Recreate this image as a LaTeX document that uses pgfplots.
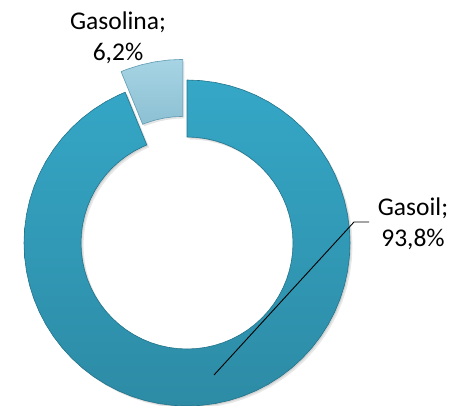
\documentclass[border=0pt]{standalone}
\usepackage{pgfplots}
\pgfplotsset{compat=1.18}
\usepackage{pgfplotstable}
\usepackage{fontspec}
\setmainfont{Carlito}
\definecolor{oilTop}{HTML}{35A7C7}
\definecolor{oilBot}{HTML}{2D8BA5}
\definecolor{oilEdge}{HTML}{22748B}
\definecolor{gasTop}{HTML}{A6D4E4}
\definecolor{gasBot}{HTML}{8CC0D3}
\definecolor{gasEdge}{HTML}{5E9AB0}
% Gasoil 93.8 %  -> 337.7 deg, from 90 clockwise to -247.7
\pgfplotstableread{
a r
90 163
85 163
80 163
75 163
70 163
65 163
60 163
55 163
50 163
45 163
40 163
35 163
30 163
25 163
20 163
15 163
10 163
5 163
0 163
-5 163
-10 163
-15 163
-20 163
-25 163
-30 163
-35 163
-40 163
-45 163
-50 163
-55 163
-60 163
-65 163
-70 163
-75 163
-80 163
-85 163
-90 163
-95 163
-100 163
-105 163
-110 163
-115 163
-120 163
-125 163
-130 163
-135 163
-140 163
-145 163
-150 163
-155 163
-160 163
-165 163
-170 163
-175 163
-180 163
-185 163
-190 163
-195 163
-200 163
-205 163
-210 163
-215 163
-220 163
-225 163
-230 163
-235 163
-240 163
-245 163
-247.7 163
-247.7 106
-245 106
-240 106
-235 106
-230 106
-225 106
-220 106
-215 106
-210 106
-205 106
-200 106
-195 106
-190 106
-185 106
-180 106
-175 106
-170 106
-165 106
-160 106
-155 106
-150 106
-145 106
-140 106
-135 106
-130 106
-125 106
-120 106
-115 106
-110 106
-105 106
-100 106
-95 106
-90 106
-85 106
-80 106
-75 106
-70 106
-65 106
-60 106
-55 106
-50 106
-45 106
-40 106
-35 106
-30 106
-25 106
-20 106
-15 106
-10 106
-5 106
0 106
5 106
10 106
15 106
20 106
25 106
30 106
35 106
40 106
45 106
50 106
55 106
60 106
65 106
70 106
75 106
80 106
85 106
90 106
90 163
}\gasoil
% Gasolina 6.2 % -> 22.3 deg, from 112.3 to 90
\pgfplotstableread{
a r
112.3 163
110 163
105 163
100 163
95 163
90 163
90 106
95 106
100 106
105 106
110 106
112.3 106
112.3 163
}\gasolina
\pgfplotstableread{
x y
182 21
167 21
27 -132
}\leader
\begin{document}
\begin{tikzpicture}
\begin{axis}[
  scale only axis, width=455pt, height=406pt,
  xmin=-187, xmax=268, ymin=-163, ymax=243,
  hide axis, clip=false,
]
% shadows
\addplot[draw=none, fill=black, fill opacity=0.09, data cs=polar, xshift=2.5pt, yshift=-2.5pt] table[x=a,y=r] {\gasoil};
\addplot[draw=none, fill=black, fill opacity=0.10, data cs=polar, xshift=1.2pt, yshift=-1.2pt] table[x=a,y=r] {\gasoil};
\addplot[draw=none, fill=black, fill opacity=0.10, data cs=polar, xshift=-2.6pt, yshift=18.6pt] table[x=a,y=r] {\gasolina};
% slices
\addplot[draw=oilEdge, line width=0.6pt, top color=oilTop, bottom color=oilBot, data cs=polar] table[x=a,y=r] {\gasoil};
\addplot[draw=gasEdge, line width=0.6pt, top color=gasTop, bottom color=gasBot, data cs=polar, xshift=-4.1pt, yshift=20.6pt] table[x=a,y=r] {\gasolina};
% leader line
\addplot[black, line width=0.9pt] table[x=x,y=y] {\leader};
% labels
\node[font=\fontsize{25.5}{31}\selectfont, align=center] at (axis cs:-69,205) {Gasolina;\\6,2\%};
\node[font=\fontsize{25.5}{31}\selectfont, align=center] at (axis cs:226,19) {Gasoil;\\93,8\%};
\end{axis}
\pgfresetboundingbox
\path (current axis.south west) rectangle (current axis.north east);
\end{tikzpicture}
\end{document}
